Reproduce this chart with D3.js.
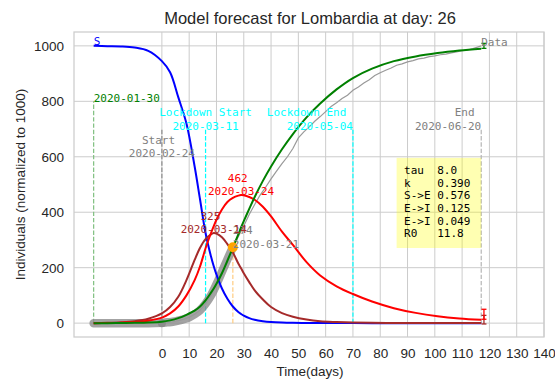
<!DOCTYPE html>
<html><head><meta charset="utf-8">
<script src="https://cdn.jsdelivr.net/npm/d3@7"></script>
<style>body{margin:0;background:#fff} text{white-space:pre}</style>
</head><body>
<svg id="c" width="555" height="380"></svg>
<script>
// ---------- data ----------
const days = [-25,-20,-15,-10,-5,0,3,6,9,12,14,16,18,19,20,22,24,26,28,29,30,32,34,37,40,44,48,53,58,64,70,77,85,93,101,109,117];
const S = [1000,999,998,994,982,945,905,815,720,565,445,325,240,205,175,125,88,60,40,33,27,18,12,7,4,2,1,0.5,0.3,0.2,0.1,0,0,0,0,0,0];
const E = [0,1,3,7,16,35,58,95,155,228,272,303,320,325,323,310,285,255,215,198,180,148,118,85,58,36,23,13,7,4,2,1,0.5,0.3,0.2,0.1,0.1];
const I = [0,0.5,1.5,4,9,20,35,60,100,155,205,270,325,350,373,410,437,452,460,462,461,455,445,420,385,330,282,220,172,133,105,78,54,37,25,17,12];
const R = [0,0,0.5,1,2,5,10,18,30,45,60,82,110,125,142,180,225,272,320,345,368,412,455,513,565,627,682,742,792,843,884,918,945,962,974,983,990];

const dataDays = [-25,-20,-15,-10,-5,0,2,4,6,8,10,12,14,16,18,20,22,24,26,28,30,32,34,36,38,40,42,44,46,48,50,52,54,56,58,60,62,64,66,68,70,72,74,76,78,80,82,84,86,88,90,92,94,96,98,100,102,104,106,108,110,112,114,117];
const dataVals = [0,0,0,0,0,1,3,5,9,14,21,32,47,70,100,140,185,230,274,312,350,392,428,462,490,520,548,575,600,630,668,690,708,728,745,763,781,795,810,822,840,852,866,878,893,903,912,920,930,935,942,947,953,956,961,964,968,970,975,978,983,985,990,1000];
const fitDay = 26, fitVal = 274;

const xTicks = [0,10,20,30,40,50,60,70,80,90,100,110,120,130,140];
const yTicks = [0,200,400,600,800,1000];

const eventDays   = [-25, 0, 16, 70, 117];
const eventTops   = [800, 700, 700, 700, 700];
const eventLabelV = [800, 600, 700, 700, 700];
const eventLines  = [['2020-01-30'], ['Start ','2020-02-24'], ['Lockdown Start','2020-03-11'], ['Lockdown End ','2020-05-04'], ['End ','2020-06-20']];
const eventAnchor = ['start','middle','middle','end','end'];
const eventLineColor = ['#7fbf7f','#8c8c8c','#00ffff','#00ffff','#b5b5b5'];
const eventTextColor = ['#008000','#808080','#00ffff','#00ffff','#808080'];

const peakDays = [29, 19];
const peakVals = [462, 325];
const peakLines = [['462 ','2020-03-24'], ['325 ','2020-03-14']];
const peakColors = ['red','brown'];

const fitLines = ['274','2020-03-21'];

const paramLines = ['tau  8.0','k    0.390','S->E 0.576','E->I 0.125','E->I 0.049','R0   11.8'];
const boxDays = [86, 117], boxVals = [271, 596];

const errDay = 118;
const errR = [991, 1009], errI = [14, 50], errE = [-3, 28];

// ---------- chart ----------
const svg = d3.select('#c');
const W = 555, H = 380;
const L = 74, Rt = 544, T = 32, B = 337;
const x = d3.scaleLinear().domain([-32.2, 140]).range([L, Rt]);
const y = d3.scaleLinear().domain([-50, 1050]).range([B, T]);
const sans = 'Liberation Sans, Arial, Helvetica, sans-serif';
const mono = 'DejaVu Sans Mono, monospace';

svg.append('rect').attr('width',W).attr('height',H).attr('fill','#fff');

// grid
const grid = svg.append('g');
grid.selectAll('.gx').data(xTicks).join('line')
  .attr('x1',d=>x(d)).attr('x2',d=>x(d)).attr('y1',T).attr('y2',B)
  .attr('stroke','#cccccc').attr('stroke-width',1);
grid.selectAll('.gy').data(yTicks).join('line')
  .attr('y1',d=>y(d)).attr('y2',d=>y(d)).attr('x1',L).attr('x2',Rt)
  .attr('stroke','#cccccc').attr('stroke-width',1);
svg.append('rect').attr('x',L).attr('y',T).attr('width',Rt-L).attr('height',B-T)
  .attr('fill','none').attr('stroke','#cccccc').attr('stroke-width',1.25);

// axes (tick labels via d3 axis)
const xAxis = d3.axisBottom(x).tickValues(xTicks).tickSize(0).tickPadding(11).tickFormat(d3.format('d'));
const gx = svg.append('g').attr('transform',`translate(0,${B})`).call(xAxis);
const yAxis = d3.axisLeft(y).tickValues(yTicks).tickSize(0).tickPadding(10).tickFormat(d3.format('d'));
const gy = svg.append('g').attr('transform',`translate(${L},0)`).call(yAxis);
[gx,gy].forEach(g=>{
  g.select('.domain').remove();
  g.selectAll('text').attr('font-family',sans).attr('font-size',13.5).attr('fill','#262626');
});

// title and axis labels
svg.append('text').attr('x',310).attr('y',24).attr('text-anchor','middle')
  .attr('font-family',sans).attr('font-size',16.5).attr('fill','#262626')
  .text('Model forecast for Lombardia at day: 26');
svg.append('text').attr('x',310).attr('y',376).attr('text-anchor','middle')
  .attr('font-family',sans).attr('font-size',13.5).attr('fill','#262626').text('Time(days)');
svg.append('text').attr('transform',`translate(25,${(T+B)/2}) rotate(-90)`).attr('text-anchor','middle')
  .attr('font-family',sans).attr('font-size',13.5).attr('fill','#262626').text('Individuals (normalized to 1000)');

// event vertical dashed lines
eventDays.forEach((d,i)=>{
  svg.append('line').attr('x1',x(d)).attr('x2',x(d)).attr('y1',y(0)).attr('y2',y(eventTops[i]))
    .attr('stroke',eventLineColor[i]).attr('stroke-width',1.2).attr('stroke-dasharray','4.4,1.9');
});
// fit day dashed
svg.append('line').attr('x1',x(fitDay)).attr('x2',x(fitDay)).attr('y1',y(0)).attr('y2',y(fitVal))
  .attr('stroke','#ffcc80').attr('stroke-width',1.2).attr('stroke-dasharray','4.4,1.9');

// data line
const obs = dataDays.map((d,i)=>[d,dataVals[i]]);
svg.append('path').attr('d',d3.line().curve(d3.curveMonotoneX).x(d=>x(d[0])).y(d=>y(d[1]))(obs.filter(p=>p[0]<=fitDay))).attr('fill','none')
  .attr('stroke','#8c8c8c').attr('stroke-opacity',0.8).attr('stroke-width',8.5).attr('stroke-linecap','round').attr('stroke-linejoin','round');
svg.append('path').attr('d',d3.line().x(d=>x(d[0])).y(d=>y(d[1]))(obs)).attr('fill','none')
  .attr('stroke','#999999').attr('stroke-width',1.2);
svg.append('circle').attr('cx',x(0)).attr('cy',y(0)).attr('r',4).attr('fill','#8c8c8c');

// model curves
const cline = d3.line().curve(d3.curveCatmullRom.alpha(0.5)).x(d=>x(d[0])).y(d=>y(Math.max(0,d[1])));
const series = [[S,'#0000ff'],[E,'#a52a2a'],[I,'#ff0000'],[R,'#008000']];
series.forEach(([v,c])=>{
  svg.append('path').attr('d',cline(days.map((d,i)=>[d,v[i]]))).attr('fill','none')
    .attr('stroke',c).attr('stroke-width',2);
});

// end error bars
function errbar(lo,hi,c){
  const g = svg.append('g').attr('stroke',c).attr('stroke-width',1.3);
  g.append('line').attr('x1',x(errDay)).attr('x2',x(errDay)).attr('y1',y(lo)).attr('y2',y(hi));
  [lo,hi].forEach(v=>g.append('line').attr('x1',x(errDay)-2.5).attr('x2',x(errDay)+2.5).attr('y1',y(v)).attr('y2',y(v)));
}
errbar(errR[0],errR[1],'#008000');
errbar(errE[0],errE[1],'#a52a2a');
errbar(errI[0],errI[1],'#ff0000');

// fit point
svg.append('circle').attr('cx',x(fitDay)).attr('cy',y(fitVal)).attr('r',5).attr('fill','orange');

// text helpers
function multi(xp, yBase, lines, anchor, color, lh){
  const n = lines.length;
  lines.forEach((t,k)=>{
    svg.append('text').attr('x',xp).attr('y',yBase-(n-1-k)*lh).attr('text-anchor',anchor)
      .attr('font-family',mono).attr('font-size',11).attr('fill',color).text(t);
  });
}
eventDays.forEach((d,i)=>multi(x(d), y(eventLabelV[i])+0.5, eventLines[i], eventAnchor[i], eventTextColor[i], 13.6));
multi(x(fitDay), y(fitVal)+0.5, fitLines, 'start', '#808080', 13.4);
peakDays.forEach((d,i)=>multi(x(d), y(peakVals[i])+0.2, peakLines[i], 'middle', peakColors[i], 13.4));

// S and Data labels
svg.append('text').attr('x',x(-25)).attr('y',y(1000)-0.5).attr('font-family',mono).attr('font-size',11).attr('fill','#0000ff').text('S');
svg.append('text').attr('x',x(117)).attr('y',y(1000)+0.5).attr('font-family',mono).attr('font-size',11).attr('fill','#808080').text('Data');

// parameter box
svg.append('rect').attr('x',x(boxDays[0])).attr('y',y(boxVals[1]))
  .attr('width',x(boxDays[1])-x(boxDays[0])).attr('height',y(boxVals[0])-y(boxVals[1]))
  .attr('fill','#ffff00').attr('fill-opacity',0.3);
paramLines.forEach((t,k)=>{
  svg.append('text').attr('x',x(boxDays[0])+7.5).attr('y',y(boxVals[1])+16+k*12.7)
    .attr('font-family',mono).attr('font-size',11).attr('fill','#000').text(t);
});
</script>
</body></html>
